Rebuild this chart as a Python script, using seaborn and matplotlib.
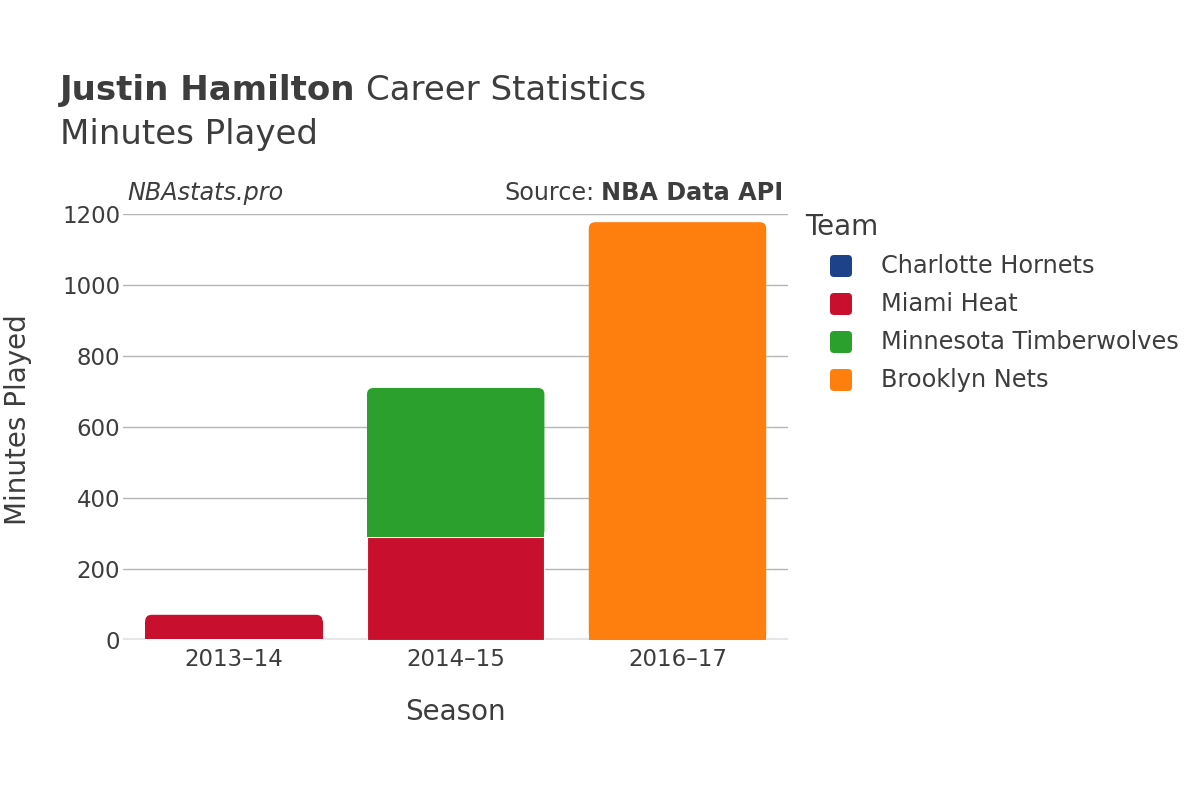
import numpy as np
import pandas as pd
import seaborn as sns
import matplotlib.pyplot as plt
from matplotlib.patches import FancyBboxPatch, Rectangle

seasons = ["2013\u201314", "2014\u201315", "2016\u201317"]
teams = ["Charlotte Hornets", "Miami Heat", "Minnesota Timberwolves", "Brooklyn Nets"]
team_colors = ["#1d428a", "#c8102e", "#2ca02c", "#ff7f0e"]
hornets = [3, 0, 0]
heat = [68, 290, 0]
wolves = [0, 420, 0]
nets = [0, 0, 1177]
yticks = [0, 200, 400, 600, 800, 1000, 1200]

minutes = [hornets, heat, wolves, nets]

sns.set_theme(style="white")
plt.rcParams['font.family'] = ['DejaVu Sans']
text_color = "#3d3d3d"

fig = plt.figure(figsize=(12, 8), dpi=100)
ax = fig.add_axes([0.1025, 0.2, 0.657 - 0.1025, 0.5325])

bottom = np.zeros(len(seasons))
for team, vals, col in zip(teams, minutes, team_colors):
    df = pd.DataFrame({"Season": seasons, "Minutes": vals})
    sns.barplot(data=df, x="Season", y="Minutes", order=seasons, color=col,
                bottom=bottom, width=0.8, ax=ax, edgecolor="white", linewidth=0.8,
                saturation=1, zorder=3)
    bottom = bottom + np.array(vals)

# round the top corners of the top segment of each stack
totals = bottom
r_x = 0.03
r_y = 18
for p in list(ax.patches):
    x, y, w, h = p.get_x(), p.get_y(), p.get_width(), p.get_height()
    if h <= 0:
        continue
    i = int(round(x + w / 2))
    if abs(y + h - totals[i]) < 1e-6:
        col = p.get_facecolor()
        p.remove()
        ax.add_patch(FancyBboxPatch((x, y), w, h,
                                    boxstyle=f"round,pad=0,rounding_size={r_x}",
                                    mutation_aspect=r_y / r_x, facecolor=col,
                                    edgecolor="none", zorder=3))
        ax.add_patch(Rectangle((x, y), w, max(h - r_y, 0), facecolor=col,
                               edgecolor="none", zorder=3))

ax.set_ylim(0, 1200)
ax.set_xlim(-0.5, 2.5)
ax.set_yticks(yticks)
ax.set_yticklabels([str(t) for t in yticks], fontsize=16.5, color=text_color)
ax.tick_params(axis="x", labelsize=16.5, colors=text_color, length=0, pad=6)
ax.tick_params(axis="y", length=0, pad=2)
for t in yticks[1:]:
    ax.axhline(t, color="#b5b5b5", lw=1, zorder=1)
ax.axhline(0, color="#e6e6e6", lw=3, zorder=2)
for s in ax.spines.values():
    s.set_visible(False)
ax.set_xlabel("Season", fontsize=20, color=text_color, labelpad=19)
ax.set_ylabel("")
fig.text(0.003, 1 - 420 / 800, "Minutes Played", rotation=90, fontsize=20,
         color=text_color, ha="left", va="center")

# title
renderer = fig.canvas.get_renderer()
t1 = fig.text(0.05, 0.875, "Justin Hamilton", fontsize=24.5, fontweight="bold",
              color=text_color, va="baseline")
bb = t1.get_window_extent(renderer)
fig.text(bb.x1 / 1200 + 0.009, 0.875, "Career Statistics", fontsize=24.5,
         color=text_color, va="baseline")
fig.text(0.05, 0.82, "Minutes Played", fontsize=24.5, color=text_color, va="baseline")

# annotations
fig.text(0.106, 0.75, "NBAstats.pro", fontsize=17.2, style="italic",
         color=text_color, va="baseline")
t2 = fig.text(0.653, 0.75, "NBA Data API", fontsize=17.2, fontweight="bold",
              color=text_color, va="baseline", ha="right")
bb2 = t2.get_window_extent(renderer)
fig.text(bb2.x0 / 1200 - 0.006, 0.75, "Source:", fontsize=17.2,
         color=text_color, va="baseline", ha="right")

# legend
fig.text(805 / 1200, 1 - 227 / 800, "Team", fontsize=20, color=text_color,
         va="center", ha="left")
for k, (team, col) in enumerate(zip(teams, team_colors)):
    yc = 266 + 38 * k
    fig.patches.append(FancyBboxPatch(
        ((841 - 11) / 1200, 1 - (yc + 11) / 800), 22 / 1200, 22 / 800,
        boxstyle=f"round,pad=0,rounding_size={4 / 1200}", mutation_aspect=1.5,
        transform=fig.transFigure, facecolor=col, edgecolor="none", figure=fig))
    fig.text(881 / 1200, 1 - yc / 800, team, fontsize=17.3, color=text_color,
             va="center", ha="left")

fig.savefig("out.png", dpi=100)
